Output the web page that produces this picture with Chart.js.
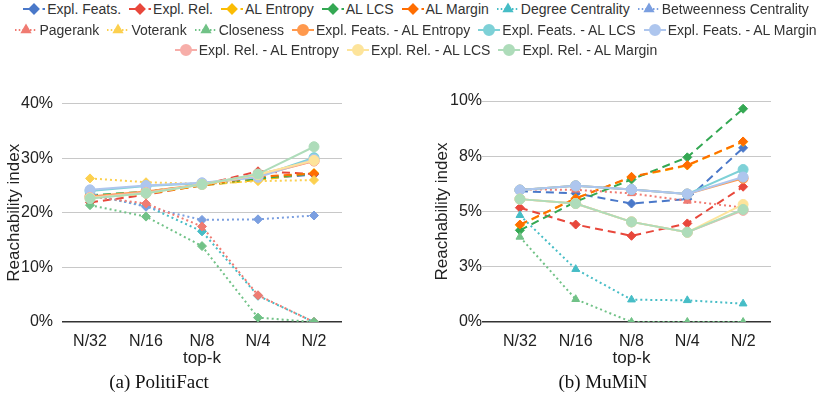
<!DOCTYPE html>
<html>
<head>
<meta charset="utf-8">
<script src="https://cdn.jsdelivr.net/npm/chart.js@4/dist/chart.umd.min.js"></script>
<style>
  body { margin: 0; background: #fff; width: 831px; height: 400px; overflow: hidden; position: relative;
         font-family: "Liberation Sans", Arial, sans-serif; }
  #legend { position: absolute; left: 0; top: -1px; width: 831px; }
  .row { display: flex; justify-content: center; align-items: center; height: 20.5px; }
  .item { display: flex; align-items: center; margin: 0 3.5px; font-size: 14px; color: #333; white-space: nowrap; }
  .item canvas { margin-right: 1px; }
  .panel { position: absolute; top: 85px; }
  .caption { position: absolute; top: 371px; width: 300px; text-align: center;
             font-family: "Liberation Serif", "DejaVu Serif", serif; font-size: 19px; color: #111; }
</style>
</head>
<body>
<div id="legend"></div>
<canvas id="politifact" class="panel" width="415" height="290" style="left:0"></canvas>
<canvas id="mumin" class="panel" width="416" height="290" style="left:415px"></canvas>
<div class="caption" style="left:9px">(a) PolitiFact</div>
<div class="caption" style="left:453px">(b) MuMiN</div>
<script>
const categories = ["N/32", "N/16", "N/8", "N/4", "N/2"];

const seriesNames = [
  "Expl. Feats.", "Expl. Rel.", "AL Entropy", "AL LCS", "AL Margin",
  "Degree Centrality", "Betweenness Centrality", "Pagerank", "Voterank", "Closeness",
  "Expl. Feats. - AL Entropy", "Expl. Feats. - AL LCS", "Expl. Feats. - AL Margin",
  "Expl. Rel. - AL Entropy", "Expl. Rel. - AL LCS", "Expl. Rel. - AL Margin"
];

// reachability index (%), one row per series, same order as seriesNames
const politifactValues = [
  [23.0, 23.6, 25.0, 26.2, 27.0],
  [21.9, 23.3, 25.1, 27.6, 27.1],
  [22.8, 23.5, 25.0, 26.0, 27.3],
  [23.2, 23.9, 25.1, 26.3, 27.2],
  [22.9, 23.7, 25.0, 26.6, 27.2],
  [23.2, 21.3, 16.6, 4.8, 0],
  [23.5, 21.1, 18.7, 18.8, 19.5],
  [23.0, 21.7, 17.5, 4.9, 0],
  [26.3, 25.6, 25.3, 25.8, 26.0],
  [21.4, 19.3, 13.9, 0.8, 0],
  [23.0, 23.9, 25.2, 26.8, 29.5],
  [24.0, 24.9, 25.4, 26.6, 30.1],
  [24.2, 25.0, 25.5, 26.5, 29.8],
  [22.8, 23.7, 25.2, 27.0, 29.5],
  [22.7, 23.6, 25.2, 27.0, 29.6],
  [22.6, 23.6, 25.2, 27.1, 32.1]
];

const muminValues = [
  [5.92, 5.82, 5.36, 5.56, 7.88],
  [5.17, 4.41, 3.90, 4.46, 6.12],
  [4.38, 5.60, 6.55, 7.08, 8.15],
  [4.15, 5.44, 6.45, 7.45, 9.65],
  [4.41, 5.59, 6.57, 7.10, 8.17],
  [4.83, 2.39, 1.01, 0.98, 0.83],
  [null, null, null, null, null],
  [6.00, 5.98, 5.82, 5.48, 5.18],
  [null, null, null, null, null],
  [3.85, 1.03, 0, 0, 0],
  [5.97, 6.16, 6.00, 5.79, 6.50],
  [5.97, 6.16, 6.00, 5.79, 6.90],
  [5.97, 6.16, 6.00, 5.79, 6.56],
  [5.56, 5.36, 4.53, 4.06, 5.05],
  [5.56, 5.36, 4.53, 4.06, 5.32],
  [5.56, 5.36, 4.53, 4.06, 5.09]
];

const politifactTicks = ["0%", "10%", "20%", "30%", "40%"];
const muminTicks = ["0%", "3%", "5%", "8%", "10%"];

const colors = [
  "#4a78c9", "#e8473b", "#fbbc04", "#34a853", "#ff6d01",
  "#46bdc6", "#7b9fe0", "#f07b72", "#fcd04f", "#71c287",
  "#ff994d", "#7ed1d7", "#aec6ee", "#f7aea9", "#fde49b", "#aedcba"
];
const legendRows = [7, 6, 3];

function kindOf(i) {
  return i < 5 ? "dashed" : i < 10 ? "dotted" : "solid";
}
function dashOf(kind) {
  return kind === "dashed" ? [8, 5] : kind === "dotted" ? [2, 3] : [];
}

function buildChart(id, values, tickLabels, yMax, dotMarker, geo) {
  const datasets = values.map((data, i) => {
    const kind = kindOf(i);
    return {
      label: seriesNames[i],
      data: data,
      borderColor: colors[i],
      backgroundColor: colors[i],
      borderWidth: 2,
      borderDash: dashOf(kind),
      pointStyle: kind === "dashed" ? "rectRot" : kind === "dotted" ? dotMarker : "circle",
      pointRadius: kind === "solid" ? 5 : 4.5,
      pointBorderWidth: 1,
      tension: 0,
      order: values.length - i
    };
  });

  return new Chart(document.getElementById(id), {
    type: "line",
    data: { labels: categories, datasets: datasets },
    options: {
      responsive: false,
      animation: false,
      devicePixelRatio: 1,
      layout: { padding: { top: 16, right: geo.right, bottom: 6, left: 0 } },
      plugins: { legend: { display: false }, tooltip: { enabled: false } },
      scales: {
        x: {
          offset: true,
          grid: { display: false, drawTicks: false },
          border: { display: false },
          ticks: { color: "#222", font: { size: 16, family: "Liberation Sans" }, padding: 10, maxRotation: 0 },
          title: { display: true, text: "top-k", color: "#222", font: { size: 17, family: "Liberation Sans" },
                   padding: { top: 0, bottom: 0 } },
          afterFit: (s) => { s.height = 47; }
        },
        y: {
          min: 0,
          max: yMax,
          ticks: {
            stepSize: yMax / 4,
            color: "#222",
            font: { size: 16, family: "Liberation Sans" },
            padding: geo.tickPad,
            callback: (v, i) => tickLabels[i]
          },
          grid: {
            color: (c) => (c.tick && c.tick.value === 0 ? "#333" : "#c8c8c8"),
            lineWidth: (c) => (c.tick && c.tick.value === 0 ? 1.5 : 1),
            drawTicks: geo.tickLen > 0,
            tickLength: geo.tickLen,
            tickColor: (c) => (c.tick && c.tick.value === 0 ? "#333" : "#c8c8c8")
          },
          border: { display: false },
          title: { display: true, text: "Reachability index", color: "#222",
                   font: { size: 17, family: "Liberation Sans" }, padding: { top: geo.titlePad, bottom: 0 } },
          afterFit: (s) => { s.width = geo.axisW; }
        }
      }
    }
  });
}

buildChart("politifact", politifactValues, politifactTicks, 40, "rectRot",
  { right: 73, axisW: 62, tickPad: 9, tickLen: 0, titlePad: 4.3 });
buildChart("mumin", muminValues, muminTicks, 10, "triangle",
  { right: 60, axisW: 77, tickPad: 0, tickLen: 10, titlePad: 17.3 });

// shared legend
const legend = document.getElementById("legend");
let idx = 0;
legendRows.forEach((count) => {
  const row = document.createElement("div");
  row.className = "row";
  for (let k = 0; k < count; k++, idx++) {
    const i = idx;
    const kind = kindOf(i);
    const item = document.createElement("div");
    item.className = "item";
    const c = document.createElement("canvas");
    c.width = 24; c.height = 14;
    const g = c.getContext("2d");
    g.strokeStyle = colors[i];
    g.lineWidth = 2;
    g.setLineDash(dashOf(kind).map((d) => d * 0.75));
    g.beginPath(); g.moveTo(1, 7); g.lineTo(23, 7); g.stroke();
    g.setLineDash([]);
    g.fillStyle = colors[i];
    const style = kind === "dashed" ? "rectRot" : kind === "dotted" ? "triangle" : "circle";
    Chart.helpers.drawPoint(g, { pointStyle: style, radius: kind === "solid" ? 5 : 4.5, borderWidth: 1 }, 12, 7);
    item.appendChild(c);
    const span = document.createElement("span");
    span.textContent = seriesNames[i];
    item.appendChild(span);
    row.appendChild(item);
  }
  legend.appendChild(row);
});
</script>
</body>
</html>
